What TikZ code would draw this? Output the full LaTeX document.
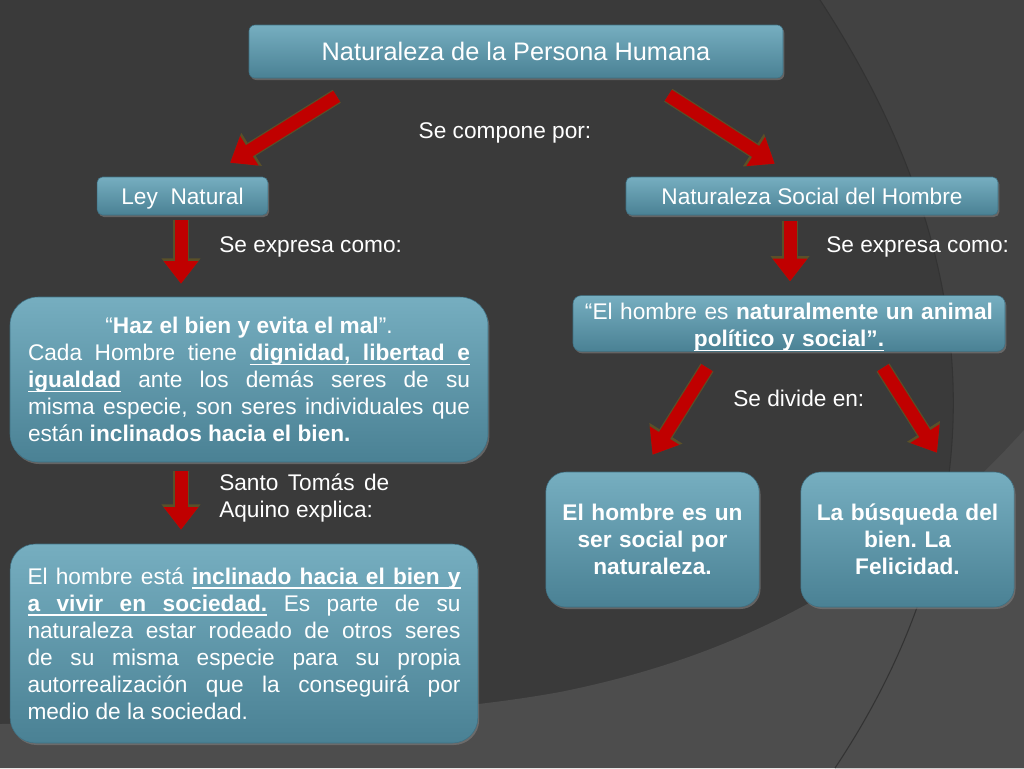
\documentclass[tikz,border=0pt]{standalone}
\usepackage{fontspec}
\setmainfont{Liberation Sans}
\usetikzlibrary{arrows.meta,shadows}
\hyphenpenalty=10000
\frenchspacing
\newcommand{\ulin}[1]{\leavevmode\setbox0\hbox{\bfseries #1}\rlap{\rule[-3.4pt]{\wd0}{1pt}}\box0\relax}
\newcommand{\usp}{\leaders\hrule height -2.4pt depth 3.4pt\hskip 0.278em plus 0.139em minus 0.093em\relax}
\definecolor{bgdark}{HTML}{3A3A3A}
\definecolor{bgright}{HTML}{424242}
\definecolor{bglight}{HTML}{4D4D4D}
\definecolor{bgline}{HTML}{333333}
\definecolor{boxtop}{HTML}{76AEC0}
\definecolor{boxbot}{HTML}{4A8194}
\definecolor{boxedge}{HTML}{3E7083}
\definecolor{arrowred}{HTML}{C00000}
\definecolor{arrowedge}{HTML}{5A5028}

\begin{document}
\begin{tikzpicture}[x=0.75pt,y=-0.75pt,
    every node/.style={text=white,font=\fontsize{17}{20.25}\selectfont},
    box/.style={rounded corners=#1,top color=boxtop,bottom color=boxbot,draw=boxedge,line width=0.4pt,
      drop shadow={opacity=0.6,shadow xshift=1pt,shadow yshift=-1.5pt},inner sep=0pt,align=center},
    redarrow/.style={line width=9.75pt,draw=arrowred,-{Triangle[length=17pt,width=25pt]},
      preaction={draw=arrowedge,line width=11.5pt,-{Triangle[length=19pt,width=28pt]}}}]
  \useasboundingbox (0,0) rectangle (1024,768);
  \fill[bgdark] (0,0) rectangle (1024,768);
  \fill[bgright] (820,0) -- (1024,0) -- (1024,768) -- (835,768) .. controls (1000,520) and (990,260) .. (820,0);
  \fill[bglight] (0,724) .. controls (300,722) and (450,712) .. (560,692) .. controls (720,660) and (880,590) .. (1024,430) -- (1024,768) -- (0,768) -- cycle;
  \draw[bgline,line width=0.8pt] (820,0) .. controls (990,260) and (1000,520) .. (835,768);

  \node[box=4.5pt,minimum width=400.5pt,minimum height=39.75pt,font=\fontsize{19}{22.8}\selectfont] (persona) at (516,51.5) {Naturaleza de la Persona Humana};
  \node[box=4pt,minimum width=128pt,minimum height=28.5pt,text height=12.3pt,text depth=0pt] (ley) at (182.5,196) {Ley\ \ Natural};
  \node[box=4pt,minimum width=279pt,minimum height=28.5pt,text height=12.3pt,text depth=0pt] (social) at (812,196) {Naturaleza Social del Hombre};
  \node[box=21pt,text width=331.5pt,inner xsep=13.5pt,minimum height=123.75pt,align=justify] (bien) at (249,379.5) {{\centering “\textbf{Haz el bien y evita el mal}”.\par}Cada Hombre tiene \ulin{dignidad,}\usp\ulin{libertad}\usp\ulin{e}\linebreak \ulin{igualdad} ante los demás seres de su\linebreak misma especie, son seres individuales que\linebreak están \textbf{inclinados hacia el bien.}};
  \node[box=6pt,text width=318pt,inner xsep=3pt,minimum height=41.25pt] (animal) at (789,323.5) {\rule{0pt}{18pt}“El hombre es \textbf{naturalmente un animal}\\ \ulin{político y social”.}};
  \node[box=15pt,text width=150pt,inner xsep=5pt,minimum height=101.25pt] (sersocial) at (652.5,539.5) {\bfseries El hombre es un\\ ser social por\\ naturaleza.};
  \node[box=15pt,text width=150pt,inner xsep=5pt,minimum height=101.25pt] (felicidad) at (907.5,539.5) {\bfseries La búsqueda del\\ bien. La\\ Felicidad.};
  \node[box=19pt,text width=324.75pt,inner xsep=13pt,minimum height=149.25pt,align=justify] (sociedad) at (244,643.5) {El hombre está \ulin{inclinado}\usp\ulin{hacia}\usp\ulin{el}\usp\ulin{bien}\usp\ulin{y}\linebreak \ulin{a}\usp\ulin{vivir}\usp\ulin{en}\usp\ulin{sociedad.} Es parte de su\linebreak naturaleza estar rodeado de otros seres\linebreak de su misma especie para su propia\linebreak autorrealización que la conseguirá por\linebreak medio de la sociedad.};

  \node (compone) at (505,133) {Se compone por:};
  \node[anchor=west,inner sep=0pt] (expresa) at (219,247) {Se expresa como:};
  \node[anchor=west,inner sep=0pt] (expresab) at (826,247) {Se expresa como:};
  \node[anchor=west,inner sep=0pt] (divide) at (733,398) {Se divide en:};
  \node[anchor=west,inner sep=0pt,text width=127.5pt,align=justify] (tomas) at (219,497.5) {Santo Tomás de\linebreak Aquino explica:};

  \draw[redarrow] ([shift={(88,18)}]persona.south west) -- ([shift={(-38,-14)}]ley.north east);
  \draw[redarrow] ([shift={(-115,17)}]persona.south east) -- ([shift={(149,-13)}]social.north west);
  \draw[redarrow] ([shift={(-1.5,5)}]ley.south) -- ([shift={(-68,-13)}]bien.north);
  \draw[redarrow] ([shift={(-22,6)}]social.south) -- ([shift={(1,-14)}]animal.north);
  \draw[redarrow] ([shift={(-82,16)}]animal.south) -- ([shift={(0,-17)}]sersocial.north);
  \draw[redarrow] ([shift={(94,16)}]animal.south) -- ([shift={(29.5,-19)}]felicidad.north);
  \draw[redarrow] ([shift={(-68,9)}]bien.south) -- ([shift={(-63,-14)}]sociedad.north);
\end{tikzpicture}
\end{document}
